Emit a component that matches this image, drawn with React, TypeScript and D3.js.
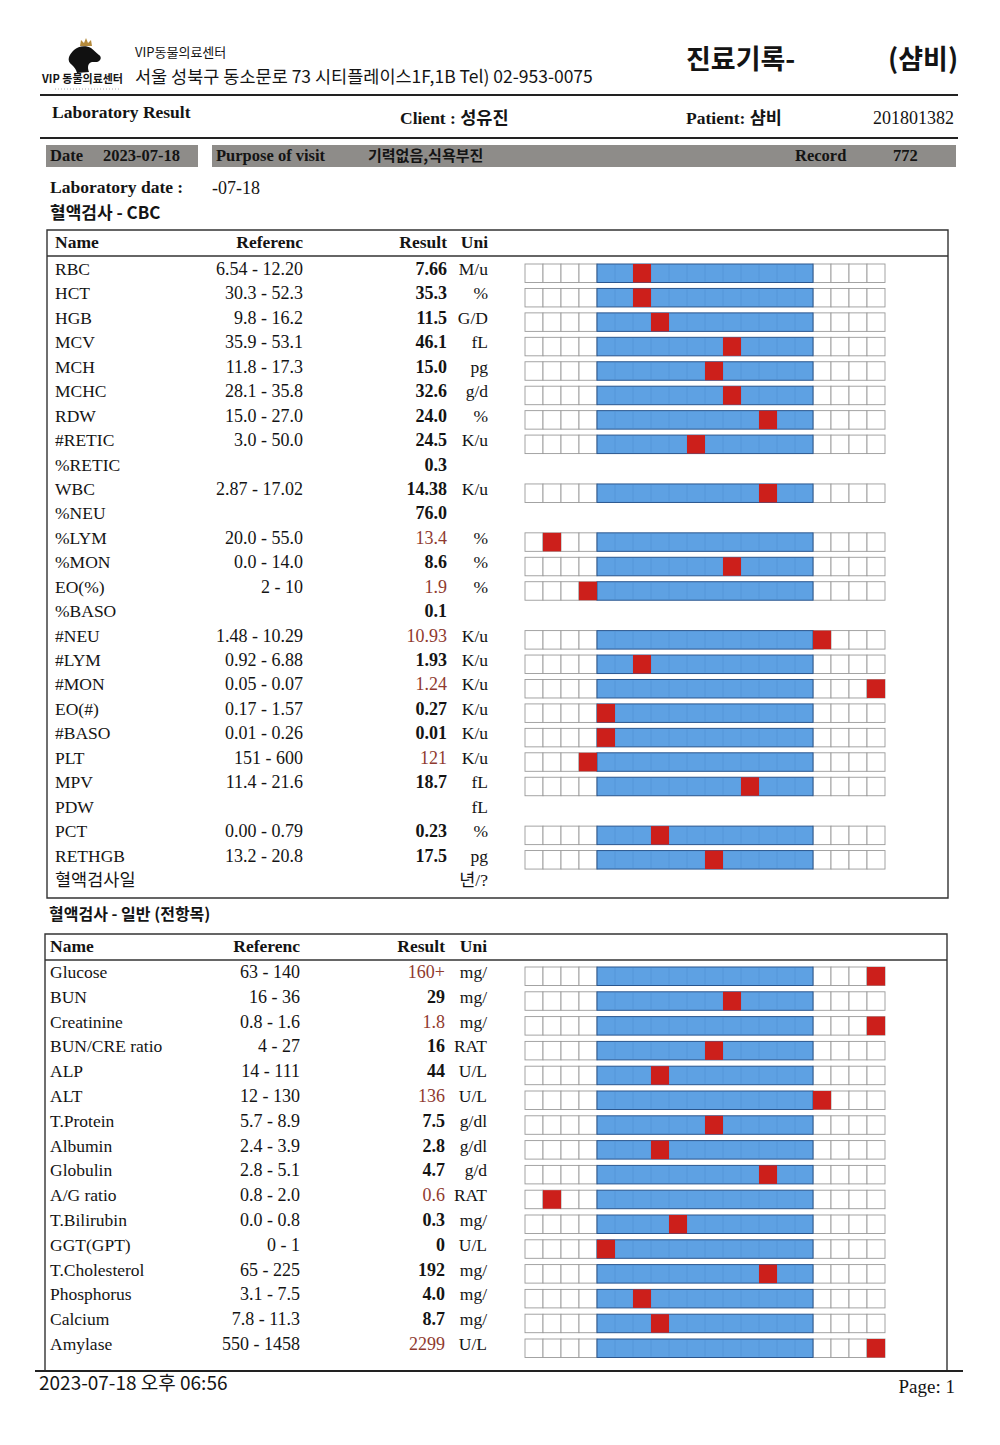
import React from "react";
import * as d3 from "d3";

// ---------- data ----------
const cbcNames = ["RBC","HCT","HGB","MCV","MCH","MCHC","RDW","#RETIC","%RETIC","WBC","%NEU","%LYM","%MON","EO(%)","%BASO","#NEU","#LYM","#MON","EO(#)","#BASO","PLT","MPV","PDW","PCT","RETHGB","혈액검사일"];
const cbcRefs = ["6.54 - 12.20","30.3 - 52.3","9.8 - 16.2","35.9 - 53.1","11.8 - 17.3","28.1 - 35.8","15.0 - 27.0","3.0 - 50.0","","2.87 - 17.02","","20.0 - 55.0","0.0 - 14.0","2 - 10","","1.48 - 10.29","0.92 - 6.88","0.05 - 0.07","0.17 - 1.57","0.01 - 0.26","151 - 600","11.4 - 21.6","","0.00 - 0.79","13.2 - 20.8",""];
const cbcResults = ["7.66","35.3","11.5","46.1","15.0","32.6","24.0","24.5","0.3","14.38","76.0","13.4","8.6","1.9","0.1","10.93","1.93","1.24","0.27","0.01","121","18.7","","0.23","17.5",""];
const cbcUnits = ["M/u","%","G/D","fL","pg","g/d","%","K/u","","K/u","","%","%","%","","K/u","K/u","K/u","K/u","K/u","K/u","fL","fL","%","pg","년/?"];

const chemNames = ["Glucose","BUN","Creatinine","BUN/CRE ratio","ALP","ALT","T.Protein","Albumin","Globulin","A/G ratio","T.Bilirubin","GGT(GPT)","T.Cholesterol","Phosphorus","Calcium","Amylase"];
const chemRefs = ["63 - 140","16 - 36","0.8 - 1.6","4 - 27","14 - 111","12 - 130","5.7 - 8.9","2.4 - 3.9","2.8 - 5.1","0.8 - 2.0","0.0 - 0.8","0 - 1","65 - 225","3.1 - 7.5","7.8 - 11.3","550 - 1458"];
const chemResults = ["160+","29","1.8","16","44","136","7.5","2.8","4.7","0.6","0.3","0","192","4.0","8.7","2299"];
const chemUnits = ["mg/","mg/","mg/","RAT","U/L","U/L","g/dl","g/dl","g/d","RAT","mg/","U/L","mg/","mg/","mg/","U/L"];

const headerCols = ["Name","Referenc","Result","Uni"];
const CELL_COUNT = 20;
const RANGE_START_CELL = 4;
const RANGE_END_CELL = 16;

// ---------- style ----------
const SERIF = "'Liberation Serif', 'Noto Sans CJK KR', serif";
const KR = "'Noto Sans CJK KR', 'Liberation Serif', sans-serif";
const BLUE = "#5ea1e3";
const BLUE_EDGE = "#2a568e";
const RED = "#cc1f1b";
const ABN = "#8f3a2f";
const INK = "#141414";

type Row = { name: string; ref: string; result: string; unit: string };

function buildRows(n: string[], r: string[], v: string[], u: string[]): Row[] {
  return n.map((name, i) => ({ name, ref: r[i], result: v[i], unit: u[i] }));
}

function parseRange(ref: string): [number, number] | null {
  if (!ref) return null;
  const p = ref.split(" - ").map(Number);
  return [p[0], p[1]];
}

function Gauge({ row, yb, x }: { row: Row; yb: number; x: d3.ScaleLinear<number, number> }) {
  const rng = parseRange(row.ref);
  const val = parseFloat(row.result);
  if (!rng || isNaN(val)) return null;
  const cellScale = d3.scaleLinear().domain(rng).range([RANGE_START_CELL, RANGE_END_CELL]);
  const cell = Math.max(0, Math.min(CELL_COUNT - 1, Math.floor(cellScale(val))));
  const top = yb - 11;
  const h = 18.5;
  const cells = d3.range(CELL_COUNT).filter((c) => c < RANGE_START_CELL || c >= RANGE_END_CELL);
  const dividers = d3.range(RANGE_START_CELL + 1, RANGE_END_CELL);
  return (
    <g>
      {cells.map((c) => (
        <rect key={c} x={x(c)} y={top} width={x(c + 1) - x(c)} height={h} fill="#fff" stroke="#9a9a9a" strokeWidth={0.9} />
      ))}
      <rect x={x(RANGE_START_CELL)} y={top} width={x(RANGE_END_CELL) - x(RANGE_START_CELL)} height={h} fill={BLUE} stroke={BLUE_EDGE} strokeWidth={1} />
      {dividers.map((c) => (
        <line key={c} x1={x(c)} x2={x(c)} y1={top + 1} y2={top + h - 1} stroke="#4d8ccf" strokeWidth={0.8} opacity={0.55} />
      ))}
      <rect x={x(cell)} y={top} width={x(cell + 1) - x(cell)} height={h} fill={RED} />
    </g>
  );
}

function Table({
  rows, top, bottom, left, right, firstBaseline, lastBaseline, nameX, refX, resX, unitX, closeBottom,
}: {
  rows: Row[]; top: number; bottom: number; left: number; right: number; firstBaseline: number; lastBaseline: number;
  nameX: number; refX: number; resX: number; unitX: number; closeBottom: boolean;
}) {
  const y = d3.scaleLinear().domain([0, rows.length - 1]).range([firstBaseline, lastBaseline]);
  const x = d3.scaleLinear().domain([0, CELL_COUNT]).range([525, 885]);
  const colX = [nameX, refX, resX, unitX];
  const colAnchor = ["start", "end", "end", "end"];
  return (
    <g>
      <path
        d={closeBottom
          ? `M${left},${top} H${right} V${bottom} H${left} Z`
          : `M${left},${bottom} V${top} H${right} V${bottom}`}
        fill="none" stroke="#333" strokeWidth={1.4}
      />
      <line x1={left} x2={right} y1={top + 26} y2={top + 26} stroke="#333" strokeWidth={1.4} />
      {headerCols.map((h, i) => (
        <text key={h} x={colX[i]} y={top + 18} textAnchor={colAnchor[i] as any} fontFamily={SERIF} fontWeight="bold" fontSize={17.5} fill={INK}>{h}</text>
      ))}
      {rows.map((r, i) => {
        const yb = y(i);
        const rng = parseRange(r.ref);
        const v = parseFloat(r.result);
        const abnormal = rng && !isNaN(v) && (v < rng[0] || v > rng[1]);
        return (
          <g key={r.name}>
            <text x={nameX} y={yb} fontFamily={SERIF} fontSize={17.5} fill={INK}>{r.name}</text>
            <text x={refX} y={yb} textAnchor="end" fontFamily={SERIF} fontSize={18} fill={INK}>{r.ref}</text>
            <text x={resX} y={yb} textAnchor="end" fontFamily={SERIF} fontSize={18} fontWeight={abnormal ? "normal" : "bold"} fill={abnormal ? ABN : INK}>{r.result}</text>
            <text x={unitX} y={yb} textAnchor="end" fontFamily={SERIF} fontSize={17.5} fill={INK}>{r.unit}</text>
            <Gauge row={r} yb={yb} x={x} />
          </g>
        );
      })}
    </g>
  );
}

function Logo() {
  return (
    <g>
      <path d="M80,46 L81,40 L84,43 L86,38 L88,43 L91,40 L92,46 Z" fill="#b48a3c" />
      <path
        d="M74,50 C78,46 86,45 91,48 C94,50 96,53 99,55 C102,57 101,61 97,62 L92,62 C88,63 87,67 89,72 L77,73 C76,69 74,67 72,65 C69,63 68,60 69,57 C70,54 72,52 74,50 Z"
        fill="#111"
      />
      <text x={42} y={83} fontFamily={KR} fontWeight="bold" fontSize={11} fill={INK}>VIP 동물의료센터</text>
      <line x1={55} x2={120} y1={89} y2={89} stroke="#aaa" strokeWidth={1} strokeDasharray="1 2" />
    </g>
  );
}

export default function App() {
  const cbcRows = buildRows(cbcNames, cbcRefs, cbcResults, cbcUnits);
  const chemRows = buildRows(chemNames, chemRefs, chemResults, chemUnits);
  return (
    <svg width={1000} height={1445} style={{ position: "absolute", left: 0, top: 0, background: "#fff" }}>
      <rect x={0} y={0} width={1000} height={1445} fill="#fff" />
      <Logo />
      <text x={135} y={57} fontFamily={KR} fontSize={13} fill={INK}>VIP동물의료센터</text>
      <text x={135} y={83} fontFamily={KR} fontSize={17.5} fill={INK}>서울 성북구 동소문로 73 시티플레이스1F,1B  Tel) 02-953-0075</text>
      <text x={686} y={69} fontFamily={KR} fontWeight="bold" fontSize={27} fill={INK}>진료기록-</text>
      <text x={888} y={69} fontFamily={KR} fontWeight="bold" fontSize={27} fill={INK}>(샴비)</text>
      <line x1={40} x2={958} y1={95} y2={95} stroke="#222" strokeWidth={2} />

      <text x={52} y={118} fontFamily={SERIF} fontWeight="bold" fontSize={17.5} fill={INK}>Laboratory Result</text>
      <text x={400} y={124} fontFamily={SERIF} fontWeight="bold" fontSize={17.5} fill={INK}>Client : 성유진</text>
      <text x={686} y={124} fontFamily={SERIF} fontWeight="bold" fontSize={17.5} fill={INK}>Patient: 샴비</text>
      <text x={954} y={124} textAnchor="end" fontFamily={SERIF} fontSize={18} fill={INK}>201801382</text>
      <line x1={40} x2={958} y1={138} y2={138} stroke="#222" strokeWidth={2} />

      <rect x={46} y={145} width={152} height={22} fill="#8e8c89" />
      <rect x={212} y={145} width={744} height={22} fill="#8e8c89" />
      <text x={50} y={161} fontFamily={SERIF} fontWeight="bold" fontSize={16.5} fill={INK}>Date</text>
      <text x={103} y={161} fontFamily={SERIF} fontWeight="bold" fontSize={16.5} fill={INK}>2023-07-18</text>
      <text x={216} y={161} fontFamily={SERIF} fontWeight="bold" fontSize={16.5} fill={INK}>Purpose of visit</text>
      <text x={368} y={161} fontFamily={KR} fontWeight="bold" fontSize={15} fill={INK}>기력없음,식욕부진</text>
      <text x={795} y={161} fontFamily={SERIF} fontWeight="bold" fontSize={16.5} fill={INK}>Record</text>
      <text x={893} y={161} fontFamily={SERIF} fontWeight="bold" fontSize={16.5} fill={INK}>772</text>

      <text x={50} y={193} fontFamily={SERIF} fontWeight="bold" fontSize={17.5} fill={INK}>Laboratory date :</text>
      <text x={212} y={194} fontFamily={SERIF} fontSize={18} fill={INK}>-07-18</text>
      <text x={50} y={219} fontFamily={KR} fontWeight="bold" fontSize={17} fill={INK}>혈액검사 - CBC</text>

      <Table rows={cbcRows} top={230} bottom={898} left={47} right={948}
        firstBaseline={275} lastBaseline={886} nameX={55} refX={303} resX={447} unitX={488} closeBottom={true} />

      <text x={49} y={920} fontFamily={KR} fontWeight="bold" fontSize={16} fill={INK}>혈액검사 - 일반 (전항목)</text>

      <Table rows={chemRows} top={934} bottom={1370} left={45} right={947}
        firstBaseline={978} lastBaseline={1350} nameX={50} refX={300} resX={445} unitX={487} closeBottom={false} />

      <line x1={35} x2={963} y1={1371} y2={1371} stroke="#222" strokeWidth={2} />
      <text x={39} y={1390} fontFamily={KR} fontSize={19} fill={INK}>2023-07-18 오후 06:56</text>
      <text x={955} y={1393} textAnchor="end" fontFamily={SERIF} fontSize={19} fill={INK}>Page: 1</text>
    </svg>
  );
}
